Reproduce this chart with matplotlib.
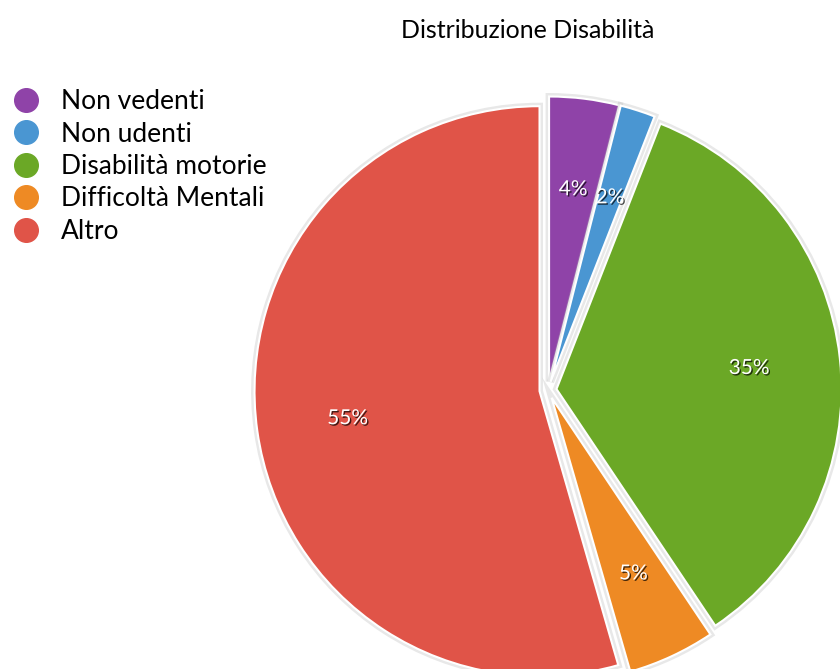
import matplotlib
matplotlib.use("Agg")
import matplotlib.pyplot as plt
import matplotlib.patheffects as pe
from matplotlib.lines import Line2D

# dati
categorie = ["Non vedenti", "Non udenti", "Disabilità motorie", "Difficoltà Mentali", "Altro"]
percentuali = [4, 2, 35, 5, 55]
colori = ["#8F43A8", "#4A96D2", "#6BA826", "#EE8A24", "#E05448"]

plt.rcParams["font.family"] = ["Lato", "DejaVu Sans"]

W, H = 840, 669
cx, cy, r = 548, 390, 285  # centro e raggio in pixel

fig = plt.figure(figsize=(W / 100, H / 100), dpi=100)
ax = fig.add_axes([0, 0, 1, 1])

totale = sum(percentuali)
wedges, testi, autotesti = ax.pie(
    percentuali,
    colors=colori,
    startangle=90,
    counterclock=False,
    explode=[0.03] * len(percentuali),
    autopct=lambda p: f"{p * totale / 100:.0f}%",
    pctdistance=0.68,
    wedgeprops=dict(edgecolor="white", linewidth=1.5),
    textprops=dict(color="white", fontsize=15),
)

for w in wedges:
    w.set_path_effects([pe.Stroke(linewidth=5, foreground=(0.7, 0.7, 0.7, 0.3)), pe.Normal()])
for t in autotesti:
    t.set_path_effects([pe.withSimplePatchShadow(offset=(1, -1), shadow_rgbFace="k", alpha=0.7)])

ax.set_aspect("equal")
ax.set_xlim(-cx / r, (W - cx) / r)
ax.set_ylim(-(H - cy) / r, cy / r)
ax.axis("off")

fig.text(528 / W, 1 - 30 / H, "Distribuzione Disabilità", ha="center", va="center", fontsize=18)

handles = [Line2D([], [], marker="o", linestyle="", markersize=17, color=c) for c in colori]
fig.legend(handles, categorie, loc="upper left", bbox_to_anchor=(0.0, 1 - 76 / H),
           frameon=False, fontsize=19, handletextpad=0.8, labelspacing=0.28,
           borderaxespad=0.1, handlelength=1.0)

fig.savefig("out.png", dpi=100)
